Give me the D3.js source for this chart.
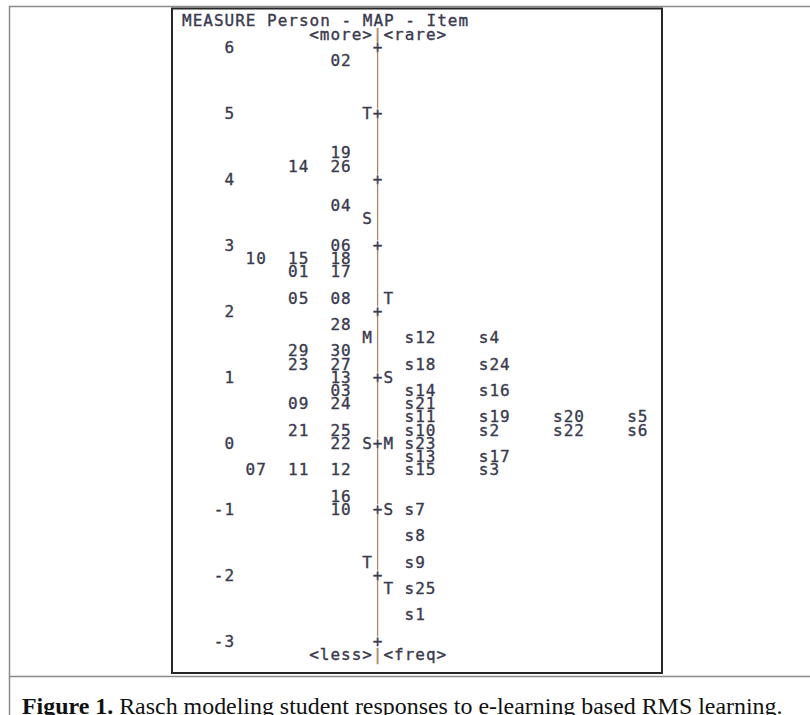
<!DOCTYPE html>
<html><head><meta charset="utf-8">
<script src="https://cdn.jsdelivr.net/npm/d3@7"></script>
<style>body{margin:0;background:#fff;} svg{display:block}</style>
</head><body>
<script>
const titleText = "MEASURE Person - MAP - Item";
const topAxisText = ["<more>", "|", "<rare>"];
const bottomAxisText = ["<less>", "|", "<freq>"];
const measureTicks = [6, 5, 4, 3, 2, 1, 0, -1, -2, -3];

// persons: measure row, labels in the three person columns
const personMeasures = [5.8, 4.4, 4.2, 3.6, 3.0, 2.8, 2.6, 2.2, 1.8, 1.4, 1.2, 1.0, 0.8, 0.6, 0.2, 0.0, -0.4, -0.8, -1.0];
const personLabels = [
  ["", "", "02"], ["", "", "19"], ["", "14", "26"], ["", "", "04"], ["", "", "06"],
  ["10", "15", "18"], ["", "01", "17"], ["", "05", "08"], ["", "", "28"], ["", "29", "30"],
  ["", "23", "27"], ["", "", "13"], ["", "", "03"], ["", "09", "24"], ["", "21", "25"],
  ["", "", "22"], ["07", "11", "12"], ["", "", "16"], ["", "", "10"]
];

// items: measure row, labels in item columns
const itemMeasures = [1.6, 1.2, 0.8, 0.6, 0.4, 0.2, 0.0, -0.2, -0.4, -1.0, -1.4, -1.8, -2.2, -2.6];
const itemLabels = [
  ["s12", "s4"], ["s18", "s24"], ["s14", "s16"], ["s21"], ["s11", "s19", "s20", "s5"],
  ["s10", "s2", "s22", "s6"], ["s23"], ["s13", "s17"], ["s15", "s3"], ["s7"],
  ["s8"], ["s9"], ["s25"], ["s1"]
];

// distribution markers (M = mean, S = 1 SD, T = 2 SD)
const personMarkerMeasures = [5.0, 3.4, 1.6, 0.0, -1.8];
const personMarkerLabels = ["T", "S", "M", "S", "T"];
const itemMarkerMeasures = [2.2, 1.0, 0.0, -1.0, -2.2];
const itemMarkerLabels = ["T", "S", "M", "S", "T"];

const captionBold = "Figure 1.";
const captionRest = " Rasch modeling student responses to e-learning based RMS learning.";

// ---- drawing ----
const W = 810, H = 715;
const svg = d3.select("body").append("svg").attr("width", W).attr("height", H);

// frame (document table + chart box)
svg.append("line").attr("x1", 9).attr("x2", W).attr("y1", 6.5).attr("y2", 6.5)
  .attr("stroke", "#8a8a8a").attr("stroke-width", 1.5);
svg.append("line").attr("x1", 9.5).attr("x2", 9.5).attr("y1", 6).attr("y2", H)
  .attr("stroke", "#8a8a8a").attr("stroke-width", 1.5);
svg.append("line").attr("x1", 9).attr("x2", W).attr("y1", 676.5).attr("y2", 676.5)
  .attr("stroke", "#8a8a8a").attr("stroke-width", 1.5);
svg.append("rect").attr("x", 172).attr("y", 8.5).attr("width", 490).attr("height", 664.5)
  .attr("fill", "none").attr("stroke", "#262626").attr("stroke-width", 2);

const y = d3.scaleLinear().domain([6, -3]).range([47, 641]);
const col = d3.scaleLinear().domain([0, 45]).range([182, 182 + 45 * 10.6]);
const rowStep = 0.2;
const ink = "#3a3a4e";
const axisInk = "#a8866a";

const g = svg.append("g")
  .attr("font-family", "'DejaVu Sans Mono', 'Liberation Mono', monospace")
  .attr("font-size", 16)
  .attr("letter-spacing", "1px")
  .attr("fill", ink)
  .attr("stroke", ink)
  .attr("stroke-width", 0.35);

function put(text, c, m, color) {
  const t = g.append("text").attr("x", col(c)).attr("y", y(m)).attr("dy", "0.36em").text(text);
  if (color) t.attr("fill", color).attr("stroke", color);
  return t;
}

// title lines
put(titleText, 0, 6 + 2 * rowStep);
put(topAxisText[0], 12, 6 + rowStep);
put(topAxisText[1], 18, 6 + rowStep, axisInk);
put(topAxisText[2], 19, 6 + rowStep);
put(bottomAxisText[0], 12, -3 - rowStep);
put(bottomAxisText[1], 18, -3 - rowStep, axisInk);
put(bottomAxisText[2], 19, -3 - rowStep);

// measure labels (right aligned at column 5)
measureTicks.forEach(v => {
  const s = String(v);
  put(s, 5 - s.length, v);
});

// central axis: "+" at integer measures, a rule between them
const axisX = col(18) + 4.8;
measureTicks.forEach(v => put("+", 18, v));
measureTicks.slice(0, -1).forEach(v => {
  svg.append("line")
    .attr("x1", axisX).attr("x2", axisX)
    .attr("y1", y(v) + 4.5).attr("y2", y(v - 1) - 4.5)
    .attr("stroke", axisInk).attr("stroke-width", 1.3);
});

// markers
personMarkerMeasures.forEach((m, i) => put(personMarkerLabels[i], 17, m));
itemMarkerMeasures.forEach((m, i) => put(itemMarkerLabels[i], 19, m));

// persons
const personCols = [6, 10, 14];
personMeasures.forEach((m, i) => {
  personLabels[i].forEach((lab, j) => { if (lab) put(lab, personCols[j], m); });
});

// items
const itemCols = [21, 28, 35, 42];
itemMeasures.forEach((m, i) => {
  itemLabels[i].forEach((lab, j) => put(lab, itemCols[j], m));
});

// caption
const cap = svg.append("text").attr("x", 22).attr("y", 714)
  .attr("font-family", "'Liberation Serif', 'Times New Roman', serif")
  .attr("font-size", 21).attr("fill", "#111");
cap.append("tspan").attr("font-weight", "bold").text(captionBold);
cap.append("tspan").text(captionRest);
const len = cap.node().getComputedTextLength();
const target = 761;
cap.attr("font-size", 21 * target / len);
</script>
</body></html>
